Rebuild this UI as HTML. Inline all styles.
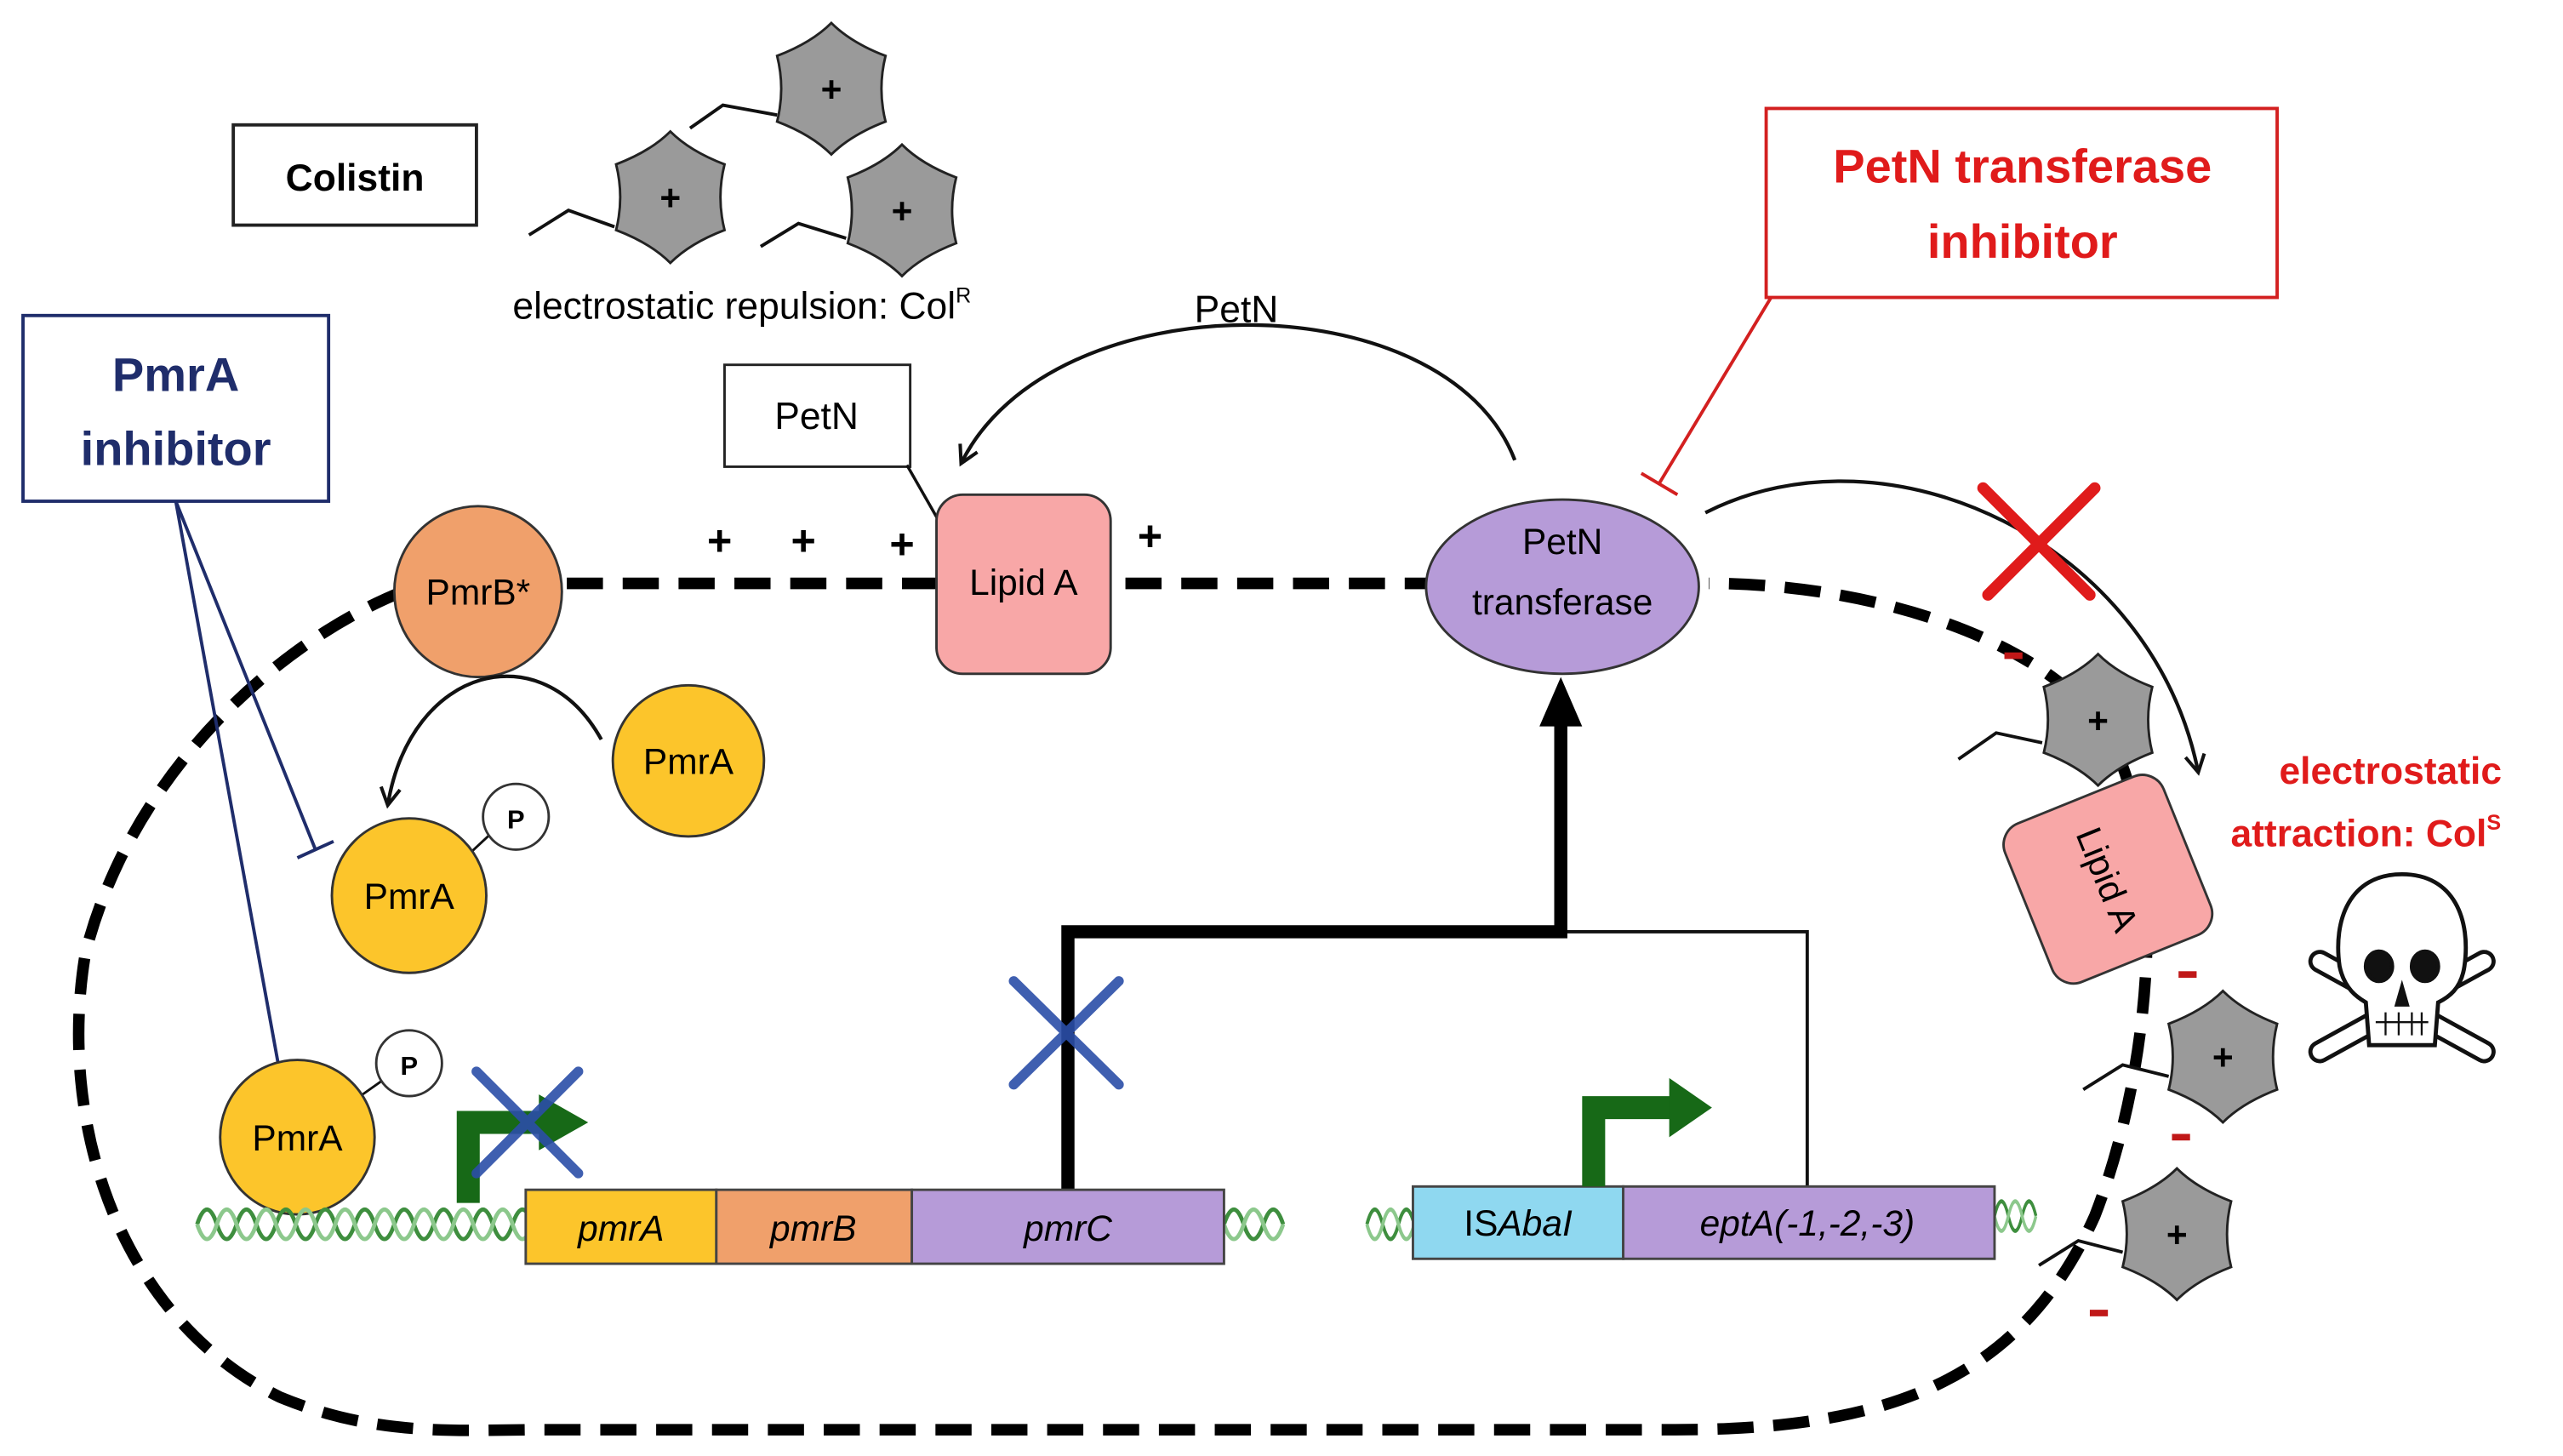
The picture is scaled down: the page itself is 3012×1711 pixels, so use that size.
<!DOCTYPE html>
<html><head><meta charset="utf-8"><style>
html,body{margin:0;padding:0;background:#fff}
svg{display:block}
text{font-family:"Liberation Sans",sans-serif}
</style></head><body>
<svg width="3012" height="1711" viewBox="0 0 1560 886" preserveAspectRatio="none" xmlns="http://www.w3.org/2000/svg">
<defs>
<g id="hx">
<path d="M0,-40 Q12,-28 33,-20 Q28,0 33,20 Q12,28 0,40 Q-12,28 -33,20 Q-28,0 -33,-20 Q-12,-28 0,-40Z" fill="#9a9a9a" stroke="#222" stroke-width="1.5"/>
<text x="0" y="8" font-size="22" font-weight="bold" text-anchor="middle">+</text></g>
<marker id="ah" viewBox="0 0 12 12" refX="10" refY="6" markerWidth="14" markerHeight="14" markerUnits="userSpaceOnUse" orient="auto"><path d="M1,1 L10,6 L1,11" fill="none" stroke="#111" stroke-width="1.8"/></marker>
<g id="helix" fill="none" stroke-width="2.5"><path d="M0,0 q6,-18 12,0 t12,0 t12,0 t12,0 t12,0 t12,0 t12,0 t12,0 t12,0 t12,0 t12,0 t12,0 t12,0 t12,0 t12,0 t12,0 t12,0" stroke="#3e8e3e"/><path d="M0,0 q6,18 12,0 t12,0 t12,0 t12,0 t12,0 t12,0 t12,0 t12,0 t12,0 t12,0 t12,0 t12,0 t12,0 t12,0 t12,0 t12,0 t12,0" stroke="#8cc88c"/></g>
<g id="hs" fill="none" stroke-width="2.5"><path d="M0,0 q6,-18 12,0 t12,0 t12,0" stroke="#3e8e3e"/><path d="M0,0 q6,18 12,0 t12,0 t12,0" stroke="#8cc88c"/></g>
</defs>

<!-- membrane -->
<path d="M245,360 C170,390 80,470 52,580 C35,680 70,800 170,850 C230,875 280,870 330,870 L1020,870 C1150,870 1230,840 1275,740 C1310,650 1320,520 1285,450 C1250,390 1140,355 1040,355 M345,355 L870,355" fill="none" stroke="#000" stroke-width="7" stroke-dasharray="22 12"/>

<rect x="142" y="76" width="148" height="61" fill="#fff" stroke="#222" stroke-width="2"/>
<text x="216" y="116" font-size="23" font-weight="bold" text-anchor="middle">Colistin</text>
<g stroke="#111" stroke-width="2" fill="none">
<path d="M420,78 L440,64 L473,70"/><path d="M322,143 L346,128 L374,138"/><path d="M463,150 L486,136 L515,145"/>
</g>
<use href="#hx" x="506" y="54"/><use href="#hx" x="408" y="120"/><use href="#hx" x="549" y="128"/>
<text x="312" y="194" font-size="23">electrostatic repulsion: Col<tspan font-size="13" dy="-10">R</tspan></text>

<text x="727" y="196" font-size="23">PetN</text>
<path d="M922,280 C880,170 640,170 585,282" fill="none" stroke="#111" stroke-width="2.2" marker-end="url(#ah)"/>
<rect x="441" y="222" width="113" height="62" fill="#fff" stroke="#222" stroke-width="1.5"/>
<text x="497" y="261" font-size="23" text-anchor="middle">PetN</text>
<line x1="552" y1="283" x2="572" y2="318" stroke="#111" stroke-width="1.8"/>

<g font-size="26" font-weight="bold" text-anchor="middle"><text x="438" y="338">+</text><text x="489" y="338">+</text><text x="549" y="340">+</text><text x="700" y="335">+</text></g>

<g stroke="#1f2d6b" stroke-width="2" fill="none">
<rect x="14" y="192" width="186" height="113" fill="#fff"/>
<line x1="107" y1="305" x2="192" y2="517"/><line x1="181" y1="522" x2="203" y2="512"/>
<line x1="107" y1="305" x2="172" y2="662"/><line x1="160" y1="664" x2="184" y2="660"/>
</g>
<text x="107" y="238" font-size="29" font-weight="bold" fill="#1f2d6b" text-anchor="middle">PmrA</text>
<text x="107" y="283" font-size="29" font-weight="bold" fill="#1f2d6b" text-anchor="middle">inhibitor</text>

<rect x="1075" y="66" width="311" height="115" fill="#fff" stroke="#d32020" stroke-width="2"/>
<text x="1231" y="111" font-size="29" font-weight="bold" fill="#e01b1b" text-anchor="middle">PetN transferase</text>
<text x="1231" y="157" font-size="29" font-weight="bold" fill="#e01b1b" text-anchor="middle">inhibitor</text>
<line x1="1078" y1="181" x2="1010" y2="294" stroke="#d32020" stroke-width="2"/>
<line x1="999" y1="288" x2="1021" y2="301" stroke="#d32020" stroke-width="2"/>

<ellipse cx="291" cy="360" rx="51" ry="52" fill="#f0a06b" stroke="#333" stroke-width="1.5"/>
<text x="291" y="368" font-size="22" text-anchor="middle">PmrB*</text>
<rect x="570" y="301" width="106" height="109" rx="16" fill="#f8a7a7" stroke="#333" stroke-width="1.5"/>
<text x="623" y="362" font-size="22" text-anchor="middle">Lipid A</text>
<ellipse cx="951" cy="357" rx="83" ry="53" fill="#b69bd8" stroke="#333" stroke-width="1.5"/>
<text x="951" y="337" font-size="22" text-anchor="middle">PetN</text>
<text x="951" y="374" font-size="22" text-anchor="middle">transferase</text>

<path d="M366,450 C330,385 250,405 236,490" fill="none" stroke="#111" stroke-width="2.2" marker-end="url(#ah)"/>
<circle cx="419" cy="463" r="46" fill="#fcc52b" stroke="#333" stroke-width="1.5"/>
<text x="419" y="471" font-size="22" text-anchor="middle">PmrA</text>
<line x1="283" y1="522" x2="298" y2="508" stroke="#111" stroke-width="1.5"/>
<circle cx="249" cy="545" r="47" fill="#fcc52b" stroke="#333" stroke-width="1.5"/>
<text x="249" y="553" font-size="22" text-anchor="middle">PmrA</text>
<circle cx="314" cy="497" r="20" fill="#fff" stroke="#333" stroke-width="1.5"/>
<text x="314" y="504" font-size="16" font-weight="bold" text-anchor="middle">P</text>
<line x1="215" y1="670" x2="232" y2="658" stroke="#111" stroke-width="1.5"/>
<circle cx="181" cy="692" r="47" fill="#fcc52b" stroke="#333" stroke-width="1.5"/>
<text x="181" y="700" font-size="22" text-anchor="middle">PmrA</text>
<circle cx="249" cy="647" r="20" fill="#fff" stroke="#333" stroke-width="1.5"/>
<text x="249" y="654" font-size="16" font-weight="bold" text-anchor="middle">P</text>

<path d="M1100,722 L1100,567 L950,567" fill="none" stroke="#111" stroke-width="2"/>
<path d="M650,725 L650,567 L950,567 L950,440" fill="none" stroke="#000" stroke-width="8"/>
<polygon points="950,412 937,442 963,442" fill="#000"/>

<!-- DNA -->
<use href="#helix" x="120" y="745"/>
<use href="#hs" x="745" y="745"/>
<g transform="translate(832,745) scale(0.8,1)"><use href="#hs"/></g>
<g transform="translate(1214,740) scale(0.7,1)"><use href="#hs"/></g>
<rect x="320" y="724" width="116" height="45" fill="#fcc52b" stroke="#444" stroke-width="1.5"/>
<rect x="436" y="724" width="119" height="45" fill="#f0a06b" stroke="#444" stroke-width="1.5"/>
<rect x="555" y="724" width="190" height="45" fill="#b69bd8" stroke="#444" stroke-width="1.5"/>
<rect x="860" y="722" width="128" height="44" fill="#8fd8f0" stroke="#444" stroke-width="1.5"/>
<rect x="988" y="722" width="226" height="44" fill="#b69bd8" stroke="#444" stroke-width="1.5"/>
<g font-size="22" font-style="italic" text-anchor="middle"><text x="378" y="755">pmrA</text><text x="495" y="755">pmrB</text><text x="650" y="755">pmrC</text><text x="1100" y="752">eptA(-1,-2,-3)</text></g>
<text x="924" y="752" font-size="22" text-anchor="middle">IS<tspan font-style="italic">AbaI</tspan></text>

<path d="M285,732 L285,683 L330,683" fill="none" stroke="#176917" stroke-width="14"/>
<polygon points="328,666 358,683 328,700" fill="#176917"/>
<path d="M970,722 L970,674 L1018,674" fill="none" stroke="#176917" stroke-width="14"/>
<polygon points="1016,656 1042,674 1016,692" fill="#176917"/>

<g stroke="#2b4ea8" stroke-width="6" stroke-linecap="round" opacity="0.9">
<line x1="617" y1="597" x2="681" y2="660"/><line x1="681" y1="597" x2="617" y2="660"/>
<line x1="290" y1="652" x2="352" y2="714"/><line x1="352" y1="652" x2="290" y2="714"/>
</g>

<path d="M1038,312 C1150,255 1310,330 1338,470" fill="none" stroke="#111" stroke-width="2.2" marker-end="url(#ah)"/>
<g stroke="#e01b1b" stroke-width="7" stroke-linecap="round"><line x1="1207" y1="297" x2="1272" y2="362"/><line x1="1275" y1="297" x2="1210" y2="362"/></g>
<g stroke="#111" stroke-width="2" fill="none">
<path d="M1192,462 L1215,446 L1243,452"/><path d="M1268,663 L1292,648 L1320,655"/><path d="M1241,770 L1265,755 L1292,762"/>
</g>
<use href="#hx" x="1277" y="438"/><use href="#hx" x="1353" y="643"/><use href="#hx" x="1325" y="751"/>
<g transform="translate(1283,535) rotate(-22)">
<rect x="-52" y="-52" width="104" height="104" rx="14" fill="#f8a7a7" stroke="#333" stroke-width="1.5"/>
<text transform="rotate(90)" x="0" y="8" font-size="22" text-anchor="middle">Lipid A</text>
</g>
<g fill="#c01818"><rect x="1220" y="397" width="11" height="4"/><rect x="1326" y="591" width="11" height="4"/><rect x="1322" y="690" width="11" height="4"/><rect x="1272" y="797" width="11" height="4"/></g>
<text x="1455" y="477" font-size="23" font-weight="bold" fill="#e01b1b" text-anchor="middle">electrostatic</text>
<text x="1440" y="515" font-size="23" font-weight="bold" fill="#e01b1b" text-anchor="middle">attraction: Col<tspan font-size="13" dy="-10">S</tspan></text>

<!-- skull -->
<g stroke="#111" stroke-width="2.5" fill="#fff">
<path d="M1412,585 L1512,640 M1512,585 L1412,640" stroke-width="14" stroke="#111" stroke-linecap="round"/>
<path d="M1412,585 L1512,640 M1512,585 L1412,640" stroke-width="9" stroke="#fff" stroke-linecap="round"/>
<path d="M1462,532 C1430,532 1420,560 1424,588 C1427,602 1435,607 1440,610 L1442,636 L1482,636 L1484,610 C1490,607 1498,602 1500,588 C1504,560 1494,532 1462,532Z"/>
<ellipse cx="1448" cy="588" rx="8" ry="9" fill="#111"/><ellipse cx="1476" cy="588" rx="8" ry="9" fill="#111"/>
<path d="M1462,598 L1458,612 L1466,612Z" fill="#111" stroke-width="1"/>
<path d="M1446,622 L1478,622 M1452,616 V630 M1460,616 V630 M1468,616 V630 M1474,616 V630" stroke-width="1.2"/>
</g>
</svg>
</body></html>
